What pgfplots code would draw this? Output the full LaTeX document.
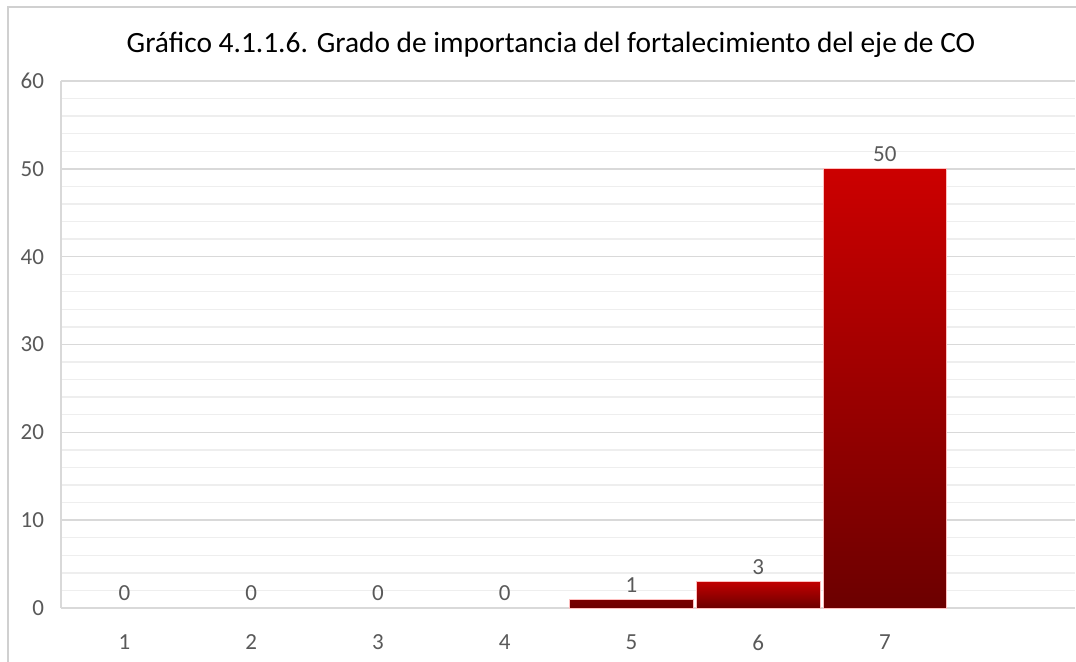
\documentclass[border=0pt]{standalone}
\usepackage{fontspec}
\setmainfont{Carlito}
\usepackage{pgfplots}
\pgfplotsset{compat=1.18}
\definecolor{gridmaj}{HTML}{D9D9D9}
\definecolor{gridmin}{HTML}{EEEEEE}
\definecolor{lbl}{HTML}{595959}
\definecolor{topred}{HTML}{CC0000}
\definecolor{botred}{HTML}{6C0000}
\definecolor{frame}{HTML}{D0D0D0}
\begin{document}
\begin{tikzpicture}
\draw[frame, line width=1pt] (4pt,0pt) -- (4pt,327.5pt) -- (538pt,327.5pt);
\node[font=\fontsize{14.7}{17}\selectfont, text=black] at (275.5pt,308.5pt) {Gráfico 4.1.1.6. Grado de importancia del fortalecimiento del eje de CO};
\begin{axis}[
  at={(30.5pt,27pt)}, anchor=south west,
  scale only axis, width=507pt, height=263.5pt,
  xmin=0.5, xmax=8.5, ymin=0, ymax=60,
  ybar, bar width=0.975, bar shift=0pt,
  xtick={1,...,7}, ytick={0,10,...,60}, minor y tick num=4,
  ymajorgrids, yminorgrids,
  major grid style={gridmaj, line width=0.7pt},
  minor grid style={gridmin, line width=0.7pt},
  axis x line*=bottom, axis y line*=left,
  axis line style={gridmaj, line width=0.7pt, -},
  major tick length=0pt, minor tick length=0pt,
  tick label style={font=\fontsize{11.5}{13}\selectfont, text=lbl},
  /pgf/number format/assume math mode=true,
  yticklabel style={xshift=-5pt},
  xticklabel style={yshift=-10pt},
  nodes near coords,
  every node near coord/.append style={font=\fontsize{11.5}{13}\selectfont, text=lbl},
  enlarge x limits=false,
  clip=false,
]
\addplot[draw=none, fill=none] coordinates {(1,0) (2,0) (3,0) (4,0)};
\addplot[draw=white!75!red, line width=0.4pt, top color=botred!85!topred, bottom color=botred] coordinates {(5,1)};
\addplot[draw=white!75!red, line width=0.4pt, top color=topred!95!black, bottom color=botred] coordinates {(6,3)};
\addplot[draw=white!75!red, line width=0.4pt, top color=topred, bottom color=botred] coordinates {(7,50)};
\end{axis}
\pgfresetboundingbox
\useasboundingbox (0pt,0pt) rectangle (538pt,331pt);
\end{tikzpicture}
\end{document}
